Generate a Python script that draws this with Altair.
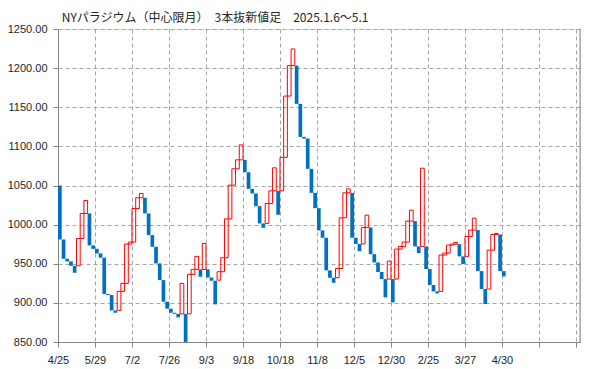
import altair as alt
import pandas as pd

title_text = "NYパラジウム（中心限月）　3本抜新値足　2025.1.6〜5.1"
date_labels = ["4/25", "5/29", "7/2", "7/26", "9/3", "9/18", "10/18",
               "11/8", "12/5", "12/30", "2/25", "3/27", "4/30"]
y_ticks = [850, 900, 950, 1000, 1050, 1100, 1150, 1200, 1250]

opens = [1050, 981, 956.4, 953, 947.4, 947.4, 982.3, 1014.3, 1014.3, 973.4,
         969.1, 963.2, 957.7, 911.3, 910, 890.4, 890.4, 914.7, 924.9, 975.1,
         977.7, 1020.6, 1034.3, 1034.3, 1014.3, 986.6, 971.7, 950.4, 929.1, 901.5,
         892.6, 887.4, 886, 886, 886, 886, 936.4, 942.8, 942.8, 942.8,
         942.8, 932.4, 928.3, 929, 939.8, 957.7, 1007.4, 1050.4, 1071.3, 1082.8,
         1082.8, 1067, 1045.7, 1039.8, 1023.6, 1001.5, 1001.5, 1027, 1043.2, 1043.2,
         1043.2, 1086, 1164.3, 1203.2, 1203.2, 1154.3, 1112.1, 1110, 1071.3, 1040.6,
         1021, 992.6, 983.2, 941.5, 932.1, 932.1, 944, 1008.7, 1040.6, 1040.6,
         983.2, 975.3, 975.3, 996.4, 996.4, 962.3, 951.7, 939.4, 930.4, 930.4,
         930.4, 930.4, 968.7, 972.1, 977.7, 1004.5, 1004.5, 972.1, 972.1, 972.1,
         943.2, 922.8, 914.7, 914.7, 961.1, 963.6, 973.8, 975.1, 975.1, 959.4,
         959.4, 984.9, 993, 993, 940.6, 917.7, 917.7, 967.4, 987.4, 987.4,
         940.6]
closes = [981, 956.4, 953, 947.4, 938.5, 982.3, 1014.3, 1030.9, 973.4, 969.1,
          963.2, 957.7, 911.3, 910, 890.4, 887.4, 914.7, 924.9, 975.1, 977.7,
          1020.6, 1034.3, 1039.8, 1014.3, 986.6, 971.7, 950.4, 929.1, 901.5, 892.6,
          887.4, 886, 881.5, 924.9, 848, 936.4, 942.8, 959.4, 933.4, 976,
          932.4, 928.3, 898.1, 939.8, 957.7, 1007.4, 1050.4, 1071.3, 1082.8, 1101.9,
          1067, 1045.7, 1039.8, 1023.6, 1001.5, 996, 1027, 1043.2, 1072.6, 1012.6,
          1086, 1164.3, 1203.2, 1224.5, 1154.3, 1112.1, 1110, 1071.3, 1040.6, 1021,
          992.6, 983.2, 941.5, 932.1, 925.7, 944, 1008.7, 1040.6, 1045.7, 983.2,
          975.3, 966, 996.4, 1012.1, 962.3, 951.7, 939.4, 930.4, 907, 953.4,
          900.6, 968.7, 972.1, 977.7, 1004.5, 1018.5, 972.1, 963.6, 1072.1, 943.2,
          922.8, 914.7, 912.1, 961.1, 963.6, 973.8, 975.1, 977.2, 959.4, 949.6,
          984.9, 993, 1008.3, 940.6, 917.7, 898.5, 967.4, 987.4, 988.7, 940.6,
          933.8]

df = pd.DataFrame({"i": list(range(len(opens))), "open": opens, "close": closes})
df["i2"] = df["i"] + 1
df["dir"] = ["up" if c > o else "down" for o, c in zip(opens, closes)]

W, H = 522, 313
GRID = "#A6A6A6"
AXIS = "#868686"
TEXT = "#262626"

label_arr = "[" + ",".join("'" + s + "'" for s in date_labels) + "]"
label_expr = label_arr + "[round(datum.value/10)] || ''"

x_enc = alt.X(
    "i:Q",
    scale=alt.Scale(domain=[0, 141.1], nice=False, zero=False),
    axis=alt.Axis(
        values=list(range(0, 141, 10)), labelExpr=label_expr, title=None,
        grid=True, gridColor=GRID, gridDash=[4, 3], gridWidth=1,
        domainColor=AXIS, tickColor=AXIS, tickSize=5, labelPadding=7,
        labelFlush=False, labelOverlap=False, labelFontSize=11,
        labelFont="Liberation Sans", labelColor=TEXT,
    ),
)
y_enc = alt.Y(
    "open:Q",
    scale=alt.Scale(domain=[850, 1250], nice=False, zero=False),
    axis=alt.Axis(
        values=y_ticks, format=".2f", title=None,
        grid=True, gridColor=GRID, gridDash=[4, 3], gridWidth=1,
        domainColor=AXIS, tickColor=AXIS, tickSize=5, labelPadding=6,
        labelFontSize=11, labelFont="Liberation Sans", labelColor=TEXT,
    ),
)

base = alt.Chart(df)
down = base.transform_filter(alt.datum.dir == "down").mark_rect(
    color="#0070C0", clip=True
).encode(x=x_enc, x2="i2:Q", y=y_enc, y2="close:Q")
up = base.transform_filter(alt.datum.dir == "up").mark_rect(
    fillOpacity=0, stroke="#FF0000", strokeWidth=1, clip=True
).encode(x=x_enc, x2="i2:Q", y=y_enc, y2="close:Q")

border = alt.Chart(pd.DataFrame({"k": [0]})).mark_rule(color=AXIS).encode(
    x=alt.value(W), y=alt.value(0), y2=alt.value(H)
)

title_mark = alt.Chart(pd.DataFrame({"t": [title_text]})).mark_text(
    align="left", baseline="alphabetic", fontSize=12,
    font="Noto Sans CJK JP", color=TEXT,
).encode(x=alt.value(3.7), y=alt.value(-7.5), text="t:N")

chart = alt.layer(down, up, border, title_mark).properties(
    width=W, height=H,
    autosize="none",
    padding={"left": 50, "top": 21, "right": 11, "bottom": 26},
).configure_view(stroke=None).configure(background="white")

chart.save("out.html", embed_options={"renderer": "svg", "actions": False})
